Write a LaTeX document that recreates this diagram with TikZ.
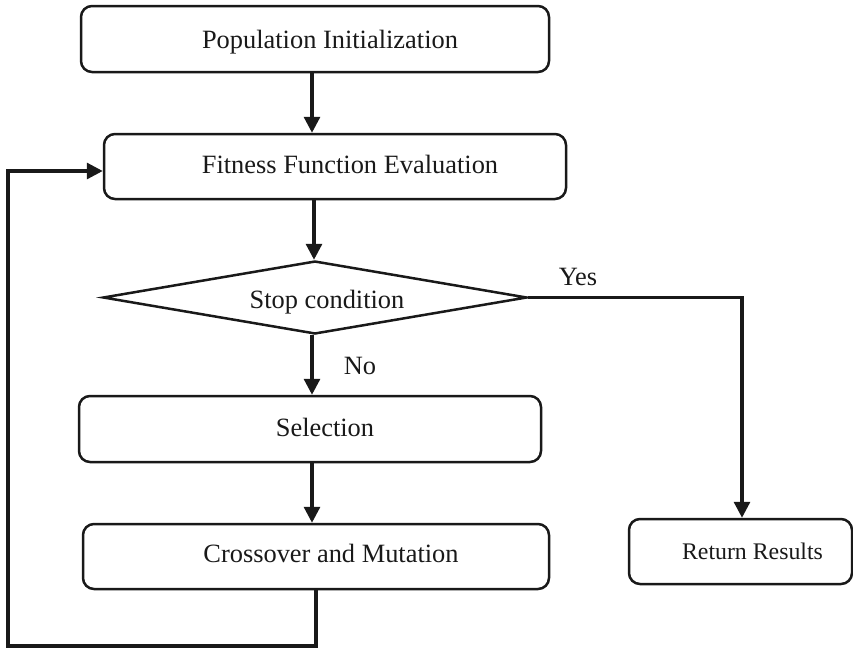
\documentclass[tikz,border=0pt]{standalone}
\usepackage{fontspec}
\setmainfont{Liberation Serif}
\usetikzlibrary{arrows.meta,shapes.geometric,calc}
\begin{document}
\begin{tikzpicture}[x=1pt,y=-1pt,
  every node/.style={font=\fontsize{26.4}{30}\selectfont, text=black!90},
  boxnode/.style={draw=black!90, line width=2.5pt, rounded corners=11pt, inner sep=0pt},
  decision/.style={draw=black!90, line width=2.5pt, diamond, inner sep=0pt},
  conn/.style={draw=black!90, line width=3.2pt, -{Triangle[length=16pt,width=16pt]}},
  plain/.style={draw=black!90, line width=3.2pt}
]
\useasboundingbox (0,0) rectangle (853,648);
% boxes
\node[boxnode, minimum width=468pt, minimum height=66pt,
  label={[xshift=15pt,yshift=-3pt]center:Population Initialization}] (pop) at (315,39) {};
\node[boxnode, minimum width=462pt, minimum height=65pt,
  label={[xshift=15pt,yshift=2.5pt]center:Fitness Function Evaluation}] (fit) at (335,166.5) {};
\node[decision, minimum width=424pt, minimum height=73pt, aspect=5.8,
  label={[xshift=12pt,yshift=-5pt]center:Stop condition}] (stop) at (315,297.5) {};
\node[boxnode, minimum width=462pt, minimum height=66pt,
  label={[xshift=15pt,yshift=2pt]center:Selection}] (sel) at (310,429) {};
\node[boxnode, minimum width=466pt, minimum height=65pt,
  label={[xshift=15pt,yshift=3pt]center:Crossover and Mutation}] (cross) at (316,556.5) {};
\node[boxnode, minimum width=223pt, minimum height=65pt,
  label={[xshift=12pt,yshift=0pt,font=\fontsize{23.8}{28}\selectfont]center:Return Results}] (ret) at (740.5,551.5) {};
% labels
\node (yes) at (578,277) {Yes};
\node (no) at (360,366) {No};
% connector coordinates
\coordinate (yc) at (742,297.5);
\coordinate (lb) at (316,646);
\coordinate (lc) at (8,646);
\coordinate (lt) at (8,171);
% connectors
\draw[conn] (pop.south -| 312,0) -- (fit.north -| 312,0);
\draw[conn] (fit.south -| 314,0) -- (stop.north -| 314,0);
\draw[conn] (stop.south -| 312,0) -- (sel.north -| 312,0);
\draw[conn] (sel.south -| 312,0) -- (cross.north -| 312,0);
\draw[conn] (stop.east) -- (yc) -- (ret.north -| yc);
\draw[conn] (cross.south -| lb) -- (lb) -- (lc) -- (lt) -- (fit.west |- lt);
\end{tikzpicture}
\end{document}
